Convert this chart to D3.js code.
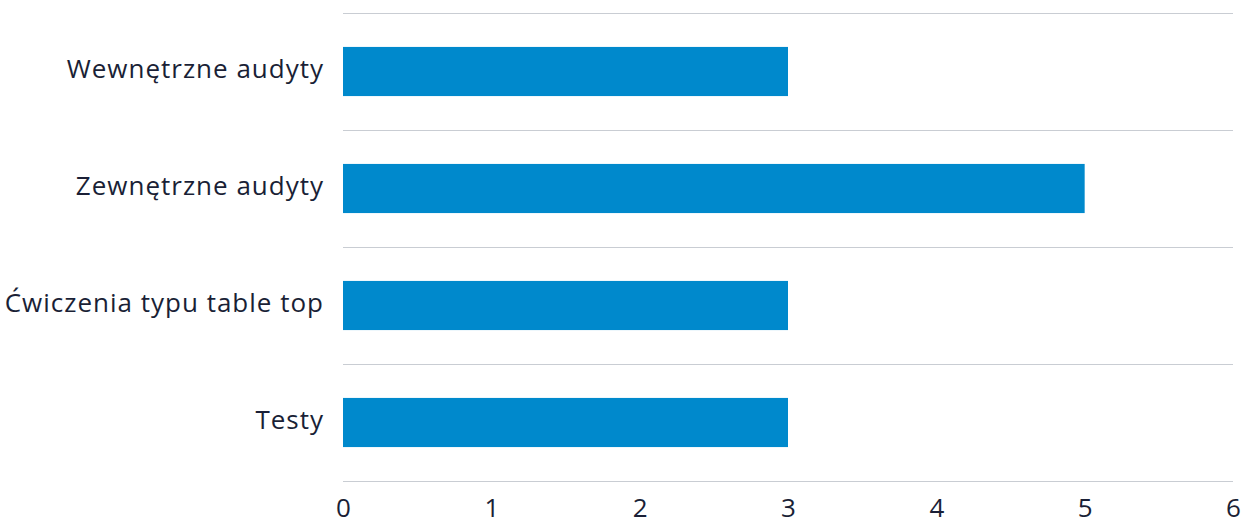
<!DOCTYPE html>
<html lang="pl">
<head>
  <meta charset="UTF-8">
  <title>Audyty i testy</title>
  <script src="https://d3js.org/d3.v7.min.js"></script>
  <style>
    body { margin: 0; background: #fff; }
    text { font-family: "Open Sans", "Noto Sans", sans-serif; fill: #1a1f36; }
  </style>
</head>
<body>
<div id="chart"></div>
<script>
  var categories = ["Wewnętrzne audyty", "Zewnętrzne audyty", "Ćwiczenia typu table top", "Testy"];
  var values = [3, 5, 3, 3];
  var tickValues = [0, 1, 2, 3, 4, 5, 6];

  var width = 1248, height = 519;
  var margin = {top: 13, right: 15, bottom: 38, left: 343};

  var svg = d3.select("#chart").append("svg")
      .attr("width", width)
      .attr("height", height);

  var x = d3.scaleLinear()
      .domain([0, 6])
      .range([margin.left, width - margin.right]);

  var y = d3.scaleBand()
      .domain(categories)
      .range([margin.top, height - margin.bottom])
      .paddingInner(0.58)
      .paddingOuter(0.29);

  // horizontal separators between categories
  var step = y.step();
  var lines = d3.range(categories.length + 1).map(function(i) { return margin.top + i * step; });
  svg.append("g").selectAll("line")
      .data(lines)
      .enter().append("line")
      .attr("x1", x(0))
      .attr("x2", x(6))
      .attr("y1", function(d) { return Math.round(d) + 0.5; })
      .attr("y2", function(d) { return Math.round(d) + 0.5; })
      .attr("stroke", "#c9cdd3")
      .attr("stroke-width", 1);

  svg.append("g").selectAll("rect")
      .data(categories)
      .enter().append("rect")
      .attr("x", x(0))
      .attr("y", function(d) { return y(d); })
      .attr("width", function(d, i) { return x(values[i]) - x(0); })
      .attr("height", y.bandwidth())
      .attr("fill", "#0089cc");

  // category labels
  var yAxis = svg.append("g")
      .attr("transform", "translate(" + (margin.left) + ",0)")
      .call(d3.axisLeft(y).tickSize(0).tickPadding(19));
  yAxis.select(".domain").remove();
  yAxis.selectAll("text")
      .attr("dy", "0.25em")
      .style("font-size", "26px")
      .style("letter-spacing", "1px")
      .style("fill", "#1a1f36");

  // value axis
  var xAxis = svg.append("g")
      .attr("transform", "translate(0," + (height - margin.bottom) + ")")
      .call(d3.axisBottom(x).tickValues(tickValues).tickSize(0).tickPadding(18).tickFormat(d3.format("d")));
  xAxis.select(".domain").remove();
  xAxis.selectAll("text")
      .style("font-size", "26px")
      .style("fill", "#1a1f36");
</script>
</body>
</html>
